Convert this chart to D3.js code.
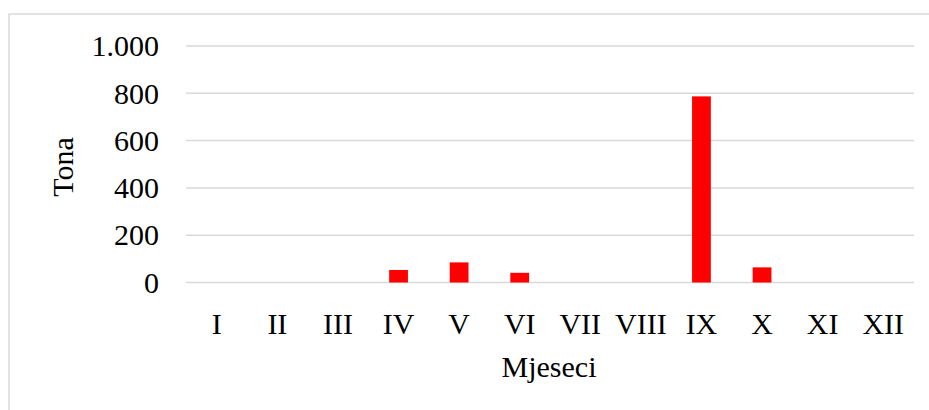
<!DOCTYPE html>
<html>
<head>
<meta charset="utf-8">
<script src="https://cdn.jsdelivr.net/npm/d3@7"></script>
<style>
  body { margin: 0; background: #fff; }
  text { font-family: "Liberation Serif", "Times New Roman", serif; fill: #000; }
</style>
</head>
<body>
<div id="chart"></div>
<script>
// Months and tonnage per month
var months = ["I", "II", "III", "IV", "V", "VI", "VII", "VIII", "IX", "X", "XI", "XII"];
var tonnes = [0, 0, 0, 53, 85, 41, 0, 0, 787, 64, 0, 0];
var yTicks = [0, 200, 400, 600, 800, 1000];
var yTickLabels = ["0", "200", "400", "600", "800", "1.000"];

var width = 929;
var height = 410;

var svg = d3.select("#chart")
  .append("svg")
  .attr("width", width)
  .attr("height", height);

// chart border (right and bottom sides fall outside the picture)
svg.append("rect")
  .attr("x", 9)
  .attr("y", 14)
  .attr("width", 940)
  .attr("height", 420)
  .attr("fill", "none")
  .attr("stroke", "#d9d9d9")
  .attr("stroke-width", 1.5);

var xScale = d3.scaleBand()
  .domain(months)
  .range([186.5, 913.5])
  .paddingInner(0.69)
  .paddingOuter(0.345);

var yScale = d3.scaleLinear()
  .domain([0, 1000])
  .range([282.5, 46]);

// gridlines
svg.append("g")
  .selectAll("line")
  .data(yTicks)
  .enter()
  .append("line")
  .attr("x1", 186)
  .attr("x2", 914)
  .attr("y1", d => yScale(d))
  .attr("y2", d => yScale(d))
  .attr("stroke", "#d9d9d9")
  .attr("stroke-width", 1.5);

// y tick labels
svg.append("g")
  .selectAll("text")
  .data(yTicks)
  .enter()
  .append("text")
  .attr("x", 159)
  .attr("y", d => yScale(d))
  .attr("dy", "0.34em")
  .attr("text-anchor", "end")
  .style("font-size", "30px")
  .text((d, i) => yTickLabels[i]);

// bars
svg.append("g")
  .selectAll("rect")
  .data(months)
  .enter()
  .append("rect")
  .attr("x", d => xScale(d))
  .attr("y", (d, i) => yScale(tonnes[i]))
  .attr("width", xScale.bandwidth())
  .attr("height", (d, i) => yScale(0) - yScale(tonnes[i]))
  .attr("fill", "#ff0000");

// x labels
svg.append("g")
  .selectAll("text")
  .data(months)
  .enter()
  .append("text")
  .attr("x", d => xScale(d) + xScale.bandwidth() / 2)
  .attr("y", 334)
  .attr("text-anchor", "middle")
  .style("font-size", "30px")
  .text(d => d);

// axis titles
svg.append("text")
  .attr("x", 549)
  .attr("y", 377)
  .attr("text-anchor", "middle")
  .style("font-size", "30px")
  .text("Mjeseci");

svg.append("text")
  .attr("transform", "rotate(-90)")
  .attr("x", -167)
  .attr("y", 73)
  .attr("text-anchor", "middle")
  .style("font-size", "30px")
  .text("Tona");
</script>
</body>
</html>
